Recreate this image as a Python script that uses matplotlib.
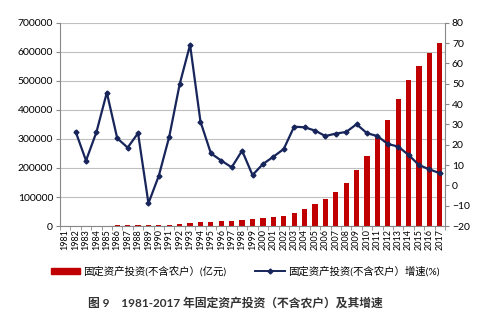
import matplotlib
matplotlib.use("Agg")
import matplotlib.pyplot as plt
import numpy as np
from matplotlib.patches import Patch
from matplotlib.lines import Line2D

plt.rcParams['font.family'] = ['Lato', 'Noto Sans CJK SC', 'DejaVu Sans']

years = [str(y) for y in range(1981, 2018)]
# 固定资产投资(不含农户), 亿元
invest = [700, 850, 950, 1200, 1750, 2150, 2550, 3200, 2900, 3050,
          3800, 5700, 9600, 12500, 14500, 16300, 17800, 21000, 23732, 26222,
          30001, 35489, 45812, 59028, 75095, 93369, 117464, 148738, 194139, 241431,
          302396, 364854, 436528, 502005, 551590, 596501, 631684]
# 增速 (%), 1982 onwards
growth = [26.5, 12.2, 26.2, 45.7, 23.2, 18.6, 25.7, -8.8, 4.8, 24.0,
          49.8, 69.2, 31.4, 15.8, 12.2, 8.9, 17.1, 5.1, 10.5, 14.1,
          17.9, 28.9, 28.6, 27.0, 24.3, 25.5, 26.3, 30.1, 25.7, 24.3,
          20.4, 19.1, 15.0, 10.0, 7.9, 6.0]

bar_label = "固定资产投资(不含农户）(亿元)"
line_label = "固定资产投资(不含农户）增速(%)"
caption = "图 9　1981-2017 年固定资产投资（不含农户）及其增速"

red = "#C00000"
navy = "#17255A"

fig = plt.figure(figsize=(5, 3.22), dpi=100)
ax = fig.add_axes([0.12, 0.298, 0.77, 0.631])
x = np.arange(len(years))

ax.bar(x, invest, width=0.5, color=red, zorder=2)
ax.set_ylim(0, 700000)
ax.set_yticks(range(0, 700001, 100000))
ax.set_xlim(-0.5, len(years) - 0.5)
ax.set_xticks(x)
ax.set_xticklabels(years, rotation=90, fontsize=6.5)
ax.tick_params(axis='x', length=0, pad=2)
ax.set_xticks(np.arange(-0.5, len(years), 1), minor=True)
ax.tick_params(axis='x', which='minor', length=3, color='#888888')
ax.tick_params(axis='y', labelsize=7.5, length=3, color='#888888', pad=2)
ax.grid(axis='y', color='#BFBFBF', linewidth=0.8, zorder=0)
for s in ['top', 'right']:
    ax.spines[s].set_visible(False)
for s in ['left', 'bottom']:
    ax.spines[s].set_color('#888888')

ax2 = ax.twinx()
ax2.plot(x[1:], growth, color=navy, linewidth=1.6, marker='D', markersize=2.5, zorder=3)
ax2.set_ylim(-20, 80)
ax2.set_yticks(range(-20, 81, 10))
ax2.tick_params(axis='y', labelsize=7.5, length=3, color='#888888', pad=2)
for s in ['top', 'left', 'bottom']:
    ax2.spines[s].set_visible(False)
ax2.spines['right'].set_color('#888888')

handles = [Patch(color=red),
           Line2D([0], [0], color=navy, linewidth=1.4, marker='D', markersize=2.5)]
fig.legend(handles, [bar_label, line_label], loc='center', bbox_to_anchor=(0.49, 0.157),
           ncol=2, frameon=False, fontsize=7.5, handlelength=2.8, handleheight=0.6,
           columnspacing=2.8, handletextpad=0.3)

fig.text(0.47, 0.06, caption, ha='center', va='center', fontsize=8.5, fontweight='bold',
         color='#333333')

fig.savefig("out.png", dpi=100)
